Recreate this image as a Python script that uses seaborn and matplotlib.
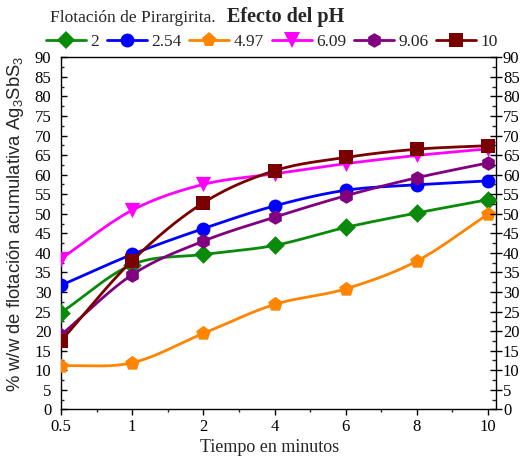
import numpy as np
import matplotlib
matplotlib.use("Agg")
import matplotlib.pyplot as plt
import seaborn as sns
from matplotlib.lines import Line2D
from matplotlib.ticker import MultipleLocator

# ---------------- data ----------------
time_labels = ["0.5", "1", "2", "4", "6", "8", "10"]
ph_labels = ["2", "2.54", "4.97", "6.09", "9.06", "10"]
ph_2 = [24.7, 37.0, 39.6, 41.9, 46.5, 50.2, 53.6]
ph_254 = [31.7, 39.6, 46.2, 52.0, 56.0, 57.4, 58.4]
ph_497 = [11.1, 11.9, 19.4, 26.8, 30.8, 37.9, 49.9]
ph_609 = [38.5, 50.9, 57.5, 60.2, 62.8, 64.9, 66.6]
ph_906 = [19.0, 34.4, 43.0, 49.1, 54.6, 59.2, 63.0]
ph_10 = [17.5, 38.0, 52.8, 61.0, 64.4, 66.5, 67.4]
series = [ph_2, ph_254, ph_497, ph_609, ph_906, ph_10]

colors = ["#0a8a0a", "#0000ff", "#ff8400", "#ff00ff", "#800080", "#7a0000"]
markers = ["D", "o", "p", "v", "h", "s"]
msizes = [9.5, 10, 11, 11, 10.5, 9.5]

sns.set_theme(style="white")
plt.rcParams["font.family"] = ["Liberation Serif", "DejaVu Serif"]
plt.rcParams["mathtext.fontset"] = "custom"
plt.rcParams["mathtext.rm"] = "Liberation Sans"


def smooth(vals, n=40):
    y = np.asarray(vals, float)
    m = np.gradient(y)
    xs, ys = [], []
    for i in range(len(y) - 1):
        t = np.linspace(0, 1, n, endpoint=(i == len(y) - 2))
        h00 = 2 * t**3 - 3 * t**2 + 1
        h10 = t**3 - 2 * t**2 + t
        h01 = -2 * t**3 + 3 * t**2
        h11 = t**3 - t**2
        ys.append(h00 * y[i] + h10 * m[i] + h01 * y[i + 1] + h11 * m[i + 1])
        xs.append(i + t)
    return np.concatenate(xs), np.concatenate(ys)


W, H = 524, 463
fig = plt.figure(figsize=(W / 100, H / 100), dpi=100)
L, R, T, B = 61, 496, 57.3, 409.3
ax = fig.add_axes([L / W, 1 - B / H, (R - L) / W, (B - T) / H])

idx = np.arange(len(time_labels))
handles = []
for k, (vals, c, m, ms) in enumerate(zip(series, colors, markers, msizes)):
    xs, ys = smooth(vals)
    sns.lineplot(x=xs, y=ys, ax=ax, color=c, lw=2.0, estimator=None,
                 sort=False, zorder=2 + 2 * k)
    sns.scatterplot(x=idx, y=vals, ax=ax, marker=m, s=ms**2, color=c,
                    edgecolor=c, linewidth=0, zorder=3 + 2 * k)
    handles.append(Line2D([0], [0], color=c, lw=2.0, marker=m, markersize=ms,
                          markeredgewidth=0))

ax.set_xlim(0, (R - L) / ((488 - 61) / 6))
ax.set_ylim(0, 90)
ax.set_xticks(idx)
ax.set_xticklabels(time_labels)
ax.xaxis.set_minor_locator(MultipleLocator(0.5))
ax.yaxis.set_major_locator(MultipleLocator(5))
ax.yaxis.set_minor_locator(MultipleLocator(2.5))

for s in ax.spines.values():
    s.set_color("black")
    s.set_linewidth(1.0)

ax.tick_params(axis="x", which="major", direction="out", length=4, width=1,
               labelsize=12, pad=3, colors="black", bottom=True, top=False)
ax.tick_params(axis="x", which="minor", direction="out", length=2.5, width=1,
               bottom=True, top=False)
ax.tick_params(axis="y", which="major", direction="in", length=4, width=1,
               labelsize=12, pad=7, left=True, right=False, colors="black")
ax.tick_params(axis="y", which="minor", direction="in", length=2.5, width=1,
               left=True, right=False)
ax.set_xlabel("")
ax.set_ylabel("")

ax2 = ax.twinx()
ax2.set_ylim(0, 90)
ax2.yaxis.set_major_locator(MultipleLocator(5))
ax2.yaxis.set_minor_locator(MultipleLocator(2.5))
ax2.tick_params(axis="y", which="major", direction="inout", length=8, width=1,
                labelsize=12, pad=1, right=True, left=False, colors="black")
ax2.tick_params(axis="y", which="minor", direction="in", length=3, width=1,
                right=True, left=False)
for s in ax2.spines.values():
    s.set_visible(False)

fig.text(270 / W, 1 - 448 / H, "Tiempo en minutos", fontsize=13,
         ha="center", va="center")
fig.text(16 / W, 1 - 224 / H,
         r"% w/w de flotación acumulativa Ag$\mathregular{_3}$SbS$\mathregular{_3}$",
         fontsize=13.3, rotation=90, ha="center", va="center",
         family=["Liberation Sans", "DejaVu Sans"])

fig.text(50 / W, 1 - 22 / H, "Flotación de Pirargirita.", fontsize=12.5,
         ha="left", va="baseline")
fig.text(227 / W, 1 - 22 / H, "Efecto del pH", fontsize=14.5,
         fontweight="bold", ha="left", va="baseline")

fig.legend(handles, ph_labels, loc="center", bbox_to_anchor=(272 / W, 1 - 42 / H),
           ncol=6, frameon=False, handlelength=2.3, handletextpad=0.25,
           columnspacing=0.45, fontsize=12.5, borderpad=0, borderaxespad=0)

fig.savefig("out.png", dpi=100)
